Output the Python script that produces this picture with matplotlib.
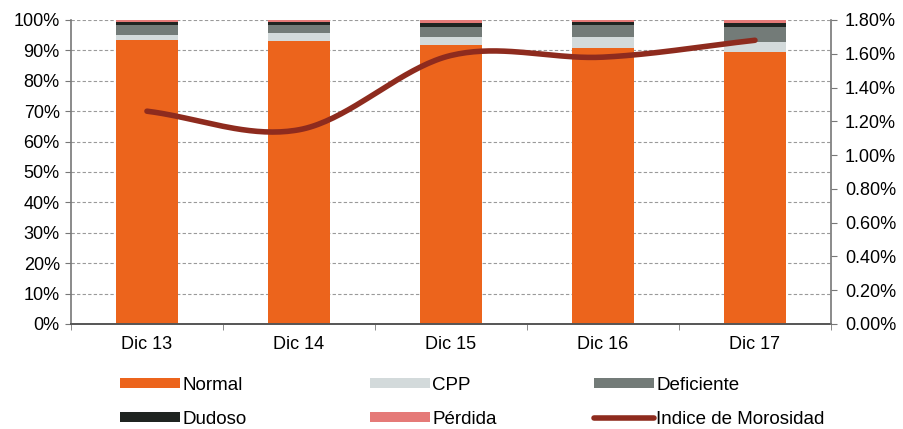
import numpy as np
import matplotlib
matplotlib.use("Agg")
import matplotlib.pyplot as plt
from matplotlib.lines import Line2D
from matplotlib.patches import Patch
from matplotlib.ticker import FuncFormatter, MultipleLocator

plt.rcParams["font.family"] = ["Liberation Sans", "DejaVu Sans"]

# data (stack shares in %, morosidad in %)
periods = ["Dic 13", "Dic 14", "Dic 15", "Dic 16", "Dic 17"]
normal = [93.3, 93.0, 91.8, 90.7, 89.6]
cpp = [1.7, 2.7, 2.6, 3.8, 3.3]
deficiente = [3.2, 2.7, 3.3, 3.8, 4.9]
dudoso = [1.0, 1.1, 1.3, 1.1, 1.1]
perdida = [0.8, 0.5, 1.0, 0.6, 1.1]
morosidad = [1.26, 1.15, 1.59, 1.58, 1.68]

series = [
    ("Normal", normal, "#EC641C"),
    ("CPP", cpp, "#D3DADB"),
    ("Deficiente", deficiente, "#737B78"),
    ("Dudoso", dudoso, "#1F2421"),
    ("Pérdida", perdida, "#E57A78"),
]
line_color = "#8E2B1E"


def smooth(y, n=40):
    # catmull-rom curve through the points, like excel's smoothed line
    y = np.asarray(y, dtype=float)
    p = np.concatenate([[2 * y[0] - y[1]], y, [2 * y[-1] - y[-2]]])
    xs, ys = [], []
    for i in range(len(y) - 1):
        t = np.linspace(0, 1, n, endpoint=False)
        p0, p1, p2, p3 = p[i], p[i + 1], p[i + 2], p[i + 3]
        m1, m2 = (p2 - p0) / 2, (p3 - p1) / 2
        h00 = 2 * t**3 - 3 * t**2 + 1
        h10 = t**3 - 2 * t**2 + t
        h01 = -2 * t**3 + 3 * t**2
        h11 = t**3 - t**2
        xs.append(i + t)
        ys.append(h00 * p1 + h10 * m1 + h01 * p2 + h11 * m2)
    xs.append([len(y) - 1])
    ys.append([y[-1]])
    return np.concatenate(xs), np.concatenate(ys)


fig = plt.figure(figsize=(9.04, 4.29), dpi=100)
ax = fig.add_axes([0.0785, 0.2448, 0.8407, 0.7086])

x = np.arange(len(periods))
bottom = np.zeros(len(periods))
for name, vals, col in series:
    ax.bar(x, vals, width=0.405, bottom=bottom, color=col, zorder=2)
    bottom += np.array(vals)

ax.set_xlim(-0.5, len(periods) - 0.5)
ax.set_ylim(0, 100)
ax.yaxis.set_major_locator(MultipleLocator(10))
ax.yaxis.set_major_formatter(FuncFormatter(lambda v, p: f"{v:.0f}%"))
ax.grid(axis="y", color="#9A9A9A", linestyle=(0, (3, 2)), linewidth=0.8, zorder=0)
ax.set_xticks(x)
ax.set_xticklabels(periods)
ax.set_xticks(np.arange(-0.5, len(periods)), minor=True)
ax.tick_params(axis="x", which="major", length=0, pad=9, labelsize=13)
ax.tick_params(axis="x", which="minor", length=4, color="#777777")
ax.tick_params(axis="y", length=4, color="#777777", labelsize=13, pad=4)
ax.spines["top"].set_visible(False)
ax.spines["right"].set_visible(False)
ax.spines["left"].set_color("#777777")
ax.spines["left"].set_linewidth(1.2)
ax.spines["bottom"].set_color("#555555")
ax.spines["bottom"].set_linewidth(1.4)

ax2 = ax.twinx()
xs, ys = smooth(morosidad)
ax2.plot(xs, ys, color=line_color, linewidth=4, solid_capstyle="round", zorder=3)
ax2.set_ylim(0, 1.8)
ax2.yaxis.set_major_locator(MultipleLocator(0.2))
ax2.yaxis.set_major_formatter(FuncFormatter(lambda v, p: f"{v:.2f}%"))
ax2.tick_params(axis="y", length=4, color="#777777", labelsize=13, pad=6)
for s in ["top", "left", "bottom"]:
    ax2.spines[s].set_visible(False)
ax2.spines["right"].set_color("#777777")
ax2.spines["right"].set_linewidth(1.2)

# legend: three columns placed by hand, two rows each
handles = {name: Patch(facecolor=col) for name, vals, col in series}
handles["Indice de Morosidad"] = Line2D([], [], color=line_color, linewidth=4, solid_capstyle="round")
columns = [["Normal", "Dudoso"], ["CPP", "Pérdida"], ["Deficiente", "Indice de Morosidad"]]
col_x = [120, 370, 594]
for names, px in zip(columns, col_x):
    fig.legend([handles[k] for k in names], names, loc="upper left",
               bbox_to_anchor=(px / 904, 0.122), frameon=False, fontsize=13.5,
               handlelength=3.2, handleheight=0.45, handletextpad=0.12,
               labelspacing=0.9, borderaxespad=0, borderpad=0)

fig.savefig("out.png", dpi=100)
